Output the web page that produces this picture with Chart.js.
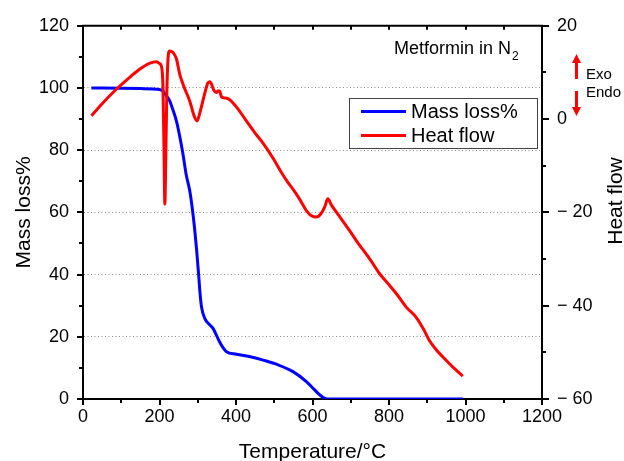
<!DOCTYPE html>
<html>
<head>
<meta charset="utf-8">
<script src="https://cdn.jsdelivr.net/npm/chart.js@4.4.1/dist/chart.umd.min.js"></script>
<style>
  html, body { margin: 0; padding: 0; background: #fff; }
  canvas { display: block; }
</style>
</head>
<body>
<canvas id="myChart" width="624" height="461"></canvas>
<script>
// mass loss curve (left axis)
const massT   = [22, 100, 150, 200, 209, 218, 226, 235, 244, 252, 261, 270, 279, 286, 292, 297, 302, 306, 310, 318, 330, 340, 350, 357, 366, 375, 401, 440, 471, 510, 549, 584, 605, 619, 632, 640, 800, 994]
const massVal = [100, 99.9, 99.8, 99.5, 99.0, 97.5, 96, 93, 89.5, 85, 79, 72, 67, 61, 54.5, 48, 40.5, 34, 29.5, 26, 24, 22.7, 20.2, 18.4, 16.5, 15.2, 14.4, 13.5, 12.5, 11, 8.8, 5.6, 3, 1.3, 0.2, 0, 0, 0]

// heat flow curve (right axis)
const heatT   = [22, 50, 87, 120, 148, 175, 192, 200, 205, 209, 212, 214, 216.5, 219, 222, 226, 235, 244, 253, 266, 279, 290, 298, 306, 318, 327, 332, 336, 342, 349, 353, 357, 362, 366, 379, 405, 427, 450, 471, 497, 520, 536, 549, 565, 584, 597, 610, 622, 632, 640, 650, 670, 697, 720, 750, 776, 801, 822, 845, 871, 890, 906, 925, 941, 965, 993]
const heatVal = [0.7, 3.3, 6.4, 8.8, 10.7, 12.0, 12.3, 11.9, 11.3, 7, -8, -18.2, -8, 5, 12.5, 14.6, 14.3, 13.0, 9.6, 6.5, 3.9, 0.8, -0.4, 1.5, 5.4, 7.8, 8.0, 7.5, 6.2, 5.7, 6.0, 6.0, 4.8, 4.6, 4.4, 2.2, -0.4, -3.0, -5.2, -8.4, -11.6, -13.6, -15.0, -17.0, -19.6, -20.7, -21.0, -20.3, -18.8, -17.1, -18.5, -20.8, -23.9, -26.7, -30.0, -33.2, -35.6, -37.7, -40.3, -42.5, -45.0, -47.5, -49.6, -51, -53, -55.1]

const xTicks = [0, 200, 400, 600, 800, 1000, 1200]
const leftTicks = [0, 20, 40, 60, 80, 100, 120]
const rightTicks = [-60, -40, -20, 0, 20]

const FONT = "'Liberation Sans', Arial, Helvetica, sans-serif"
Chart.defaults.font.family = FONT
Chart.defaults.color = '#000'

function pts(xs, ys){
    return xs.map((x,i)=>({x:x, y:ys[i]}))
}

// extra drawing: top frame, tick marks, legend box, notes, right title
const extras = {
    id: 'extras',
    afterDraw(chart){
        const c = chart.ctx
        const a = chart.chartArea
        const sx = chart.scales.x, sy = chart.scales.y, sy2 = chart.scales.y2
        c.save()
        c.strokeStyle = '#000'
        c.lineWidth = 2
        c.beginPath()
        c.moveTo(a.left-1, a.top)
        c.lineTo(a.right+1, a.top)
        c.stroke()

        c.lineWidth = 2
        c.beginPath()
        for(let v=0; v<=1200; v+=100){
            const px = Math.round(sx.getPixelForValue(v))
            const len = v%200==0 ? 6 : 4
            c.moveTo(px, a.bottom); c.lineTo(px, a.bottom+len)
            if(v>0 && v<1200){ c.moveTo(px, a.top); c.lineTo(px, a.top+4) }
        }
        for(let v=0; v<=120; v+=10){
            const py = Math.round(sy.getPixelForValue(v))
            const len = v%20==0 ? 6 : 4
            c.moveTo(a.left, py); c.lineTo(a.left-len, py)
        }
        for(let v=-60; v<=20; v+=10){
            const py = Math.round(sy2.getPixelForValue(v))
            const len = v%20==0 ? 7 : 4
            c.moveTo(a.right, py); c.lineTo(a.right+len, py)
        }
        c.stroke()

        // legend
        c.fillStyle = '#fff'
        c.fillRect(349.5, 98.5, 188, 50)
        c.strokeStyle = '#444'
        c.lineWidth = 1
        c.strokeRect(349.5, 98.5, 188, 50)
        c.font = '20px ' + FONT
        c.textBaseline = 'middle'
        c.textAlign = 'left'
        chart.data.datasets.forEach((d,i)=>{
            const y = 111.5 + i*24
            c.strokeStyle = d.borderColor
            c.lineWidth = 3
            c.beginPath(); c.moveTo(361, y); c.lineTo(406, y); c.stroke()
            c.fillStyle = '#000'
            c.fillText(d.label, 411, y+1)
        })

        // sample note
        c.textBaseline = 'alphabetic'
        c.fillStyle = '#000'
        c.font = '18px ' + FONT
        c.fillText('Metformin in N', 394, 54)
        const w = c.measureText('Metformin in N').width
        c.font = '12px ' + FONT
        c.fillText('2', 394+w+1, 60)

        // exo / endo arrows
        c.strokeStyle = '#f00'
        c.fillStyle = '#f00'
        c.lineWidth = 3
        c.beginPath()
        c.moveTo(576.5, 79); c.lineTo(576.5, 61)
        c.moveTo(576.5, 91); c.lineTo(576.5, 109)
        c.stroke()
        c.beginPath()
        c.moveTo(576.5, 54); c.lineTo(572, 63); c.lineTo(581, 63); c.closePath()
        c.moveTo(576.5, 116); c.lineTo(572, 107); c.lineTo(581, 107); c.closePath()
        c.fill()
        c.fillStyle = '#000'
        c.font = '15px ' + FONT
        c.fillText('Exo', 586, 79)
        c.fillText('Endo', 586, 97)

        // right axis title
        c.translate(616, 201)
        c.rotate(-Math.PI/2)
        c.textAlign = 'center'
        c.textBaseline = 'middle'
        c.font = '21px ' + FONT
        c.fillText('Heat flow', 0, 0)
        c.restore()
    }
}

const ctx = document.getElementById('myChart')
let chart = new Chart(ctx, {
    type: 'line',
    data: {
        datasets: [{
            label: 'Mass loss%',
            data: pts(massT, massVal),
            yAxisID: 'y',
            borderColor: '#0000ff',
            borderWidth: 3,
            pointRadius: 0,
            fill: false,
            cubicInterpolationMode: 'monotone',
            order: 1
        },
        {
            label: 'Heat flow',
            data: pts(heatT, heatVal),
            yAxisID: 'y2',
            borderColor: '#ff0000',
            borderWidth: 3,
            pointRadius: 0,
            fill: false,
            cubicInterpolationMode: 'monotone',
            order: 0
        }]
    },
    options: {
        responsive: false,
        animation: false,
        devicePixelRatio: 1,
        layout: { padding: { top: 25, left: 0, right: 0, bottom: 0 } },
        plugins: { legend: { display: false }, tooltip: { enabled: false } },
        scales: {
            x: {
                type: 'linear', position: 'bottom', min: 0, max: 1200,
                afterBuildTicks: s => { s.ticks = xTicks.map(v=>({value:v})) },
                ticks: { font: { size: 18 }, padding: 7, maxRotation: 0, color: '#000', callback: v => '' + v },
                grid: { display: false, drawTicks: false, tickLength: 0 },
                border: { display: true, color: '#000', width: 2 },
                title: { display: true, text: 'Temperature/°C', font: { size: 21, lineHeight: 0.8 }, color: '#000', padding: 0 },
                afterFit: s => { s.height = 62 }
            },
            y: {
                type: 'linear', position: 'left', min: 0, max: 120,
                afterBuildTicks: s => { s.ticks = leftTicks.map(v=>({value:v})) },
                ticks: { font: { size: 18 }, padding: 14, color: '#000' },
                grid: {
                    display: true, drawTicks: false, tickLength: 0, lineWidth: 1,
                    color: c => (c.tick && c.tick.value>0 && c.tick.value<120) ? '#8a8a8a' : 'rgba(0,0,0,0)'
                },
                border: { display: true, color: '#000', width: 2, dash: [1, 2.5] },
                title: { display: true, text: 'Mass loss%', font: { size: 21 }, color: '#000', padding: { top: 12 } },
                afterFit: s => { s.width = 83 }
            },
            y2: {
                type: 'linear', position: 'right', min: -60, max: 20,
                afterBuildTicks: s => { s.ticks = rightTicks.map(v=>({value:v})) },
                ticks: { font: { size: 18 }, padding: 15, color: '#000',
                    callback: v => v < 0 ? '\u2212 ' + Math.abs(v) : '' + v },
                grid: { display: false, drawTicks: false, tickLength: 0 },
                border: { display: true, color: '#000', width: 2 },
                afterFit: s => { s.width = 82 }
            }
        }
    },
    plugins: [extras]
})
</script>
</body>
</html>
